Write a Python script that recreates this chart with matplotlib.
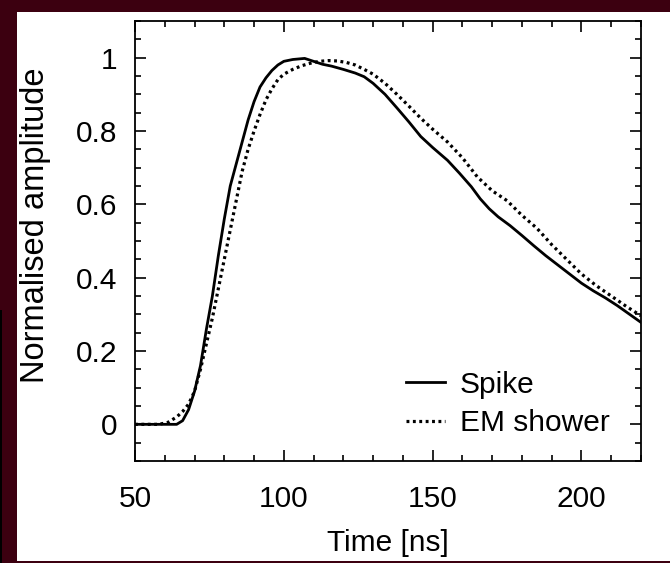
import matplotlib
matplotlib.use("Agg")
import matplotlib.pyplot as plt
from matplotlib.patches import Rectangle
from matplotlib.ticker import MultipleLocator

plt.rcParams['font.family'] = ['Liberation Sans', 'DejaVu Sans']

spike_t = [50, 64, 66, 68, 70, 72, 74, 76, 78, 80, 82, 84, 86, 88, 90, 92, 94, 96, 98,
           100, 103, 107, 110, 113, 116, 120, 124, 127, 130, 134, 138, 142, 146, 150,
           155, 159, 163, 166, 169, 172, 176, 180, 184, 188, 192, 196, 200, 204, 208,
           212, 216, 220]
spike_a = [0, 0, 0.01, 0.04, 0.09, 0.16, 0.26, 0.35, 0.46, 0.56, 0.65, 0.71, 0.77, 0.83,
           0.88, 0.92, 0.945, 0.965, 0.98, 0.99, 0.995, 0.998, 0.99, 0.982, 0.977, 0.968,
           0.958, 0.948, 0.93, 0.90, 0.863, 0.825, 0.785, 0.755, 0.72, 0.685, 0.648,
           0.615, 0.588, 0.566, 0.542, 0.515, 0.487, 0.46, 0.435, 0.41, 0.385, 0.364,
           0.345, 0.324, 0.301, 0.278]

em_t = [50, 58, 61, 64, 66, 68, 70, 72, 74, 76, 78, 80, 82, 84, 86, 88, 90, 92, 94, 96,
        98, 100, 103, 106, 109, 112, 115, 118, 121, 124, 127, 130, 134, 138, 142, 146,
        150, 155, 160, 165, 170, 175, 180, 185, 190, 195, 200, 205, 210, 215, 220]
em_a = [0, 0, 0.005, 0.02, 0.035, 0.055, 0.09, 0.15, 0.22, 0.29, 0.37, 0.45, 0.53, 0.61,
        0.69, 0.75, 0.80, 0.845, 0.885, 0.915, 0.94, 0.955, 0.968, 0.978, 0.985, 0.99,
        0.992, 0.991, 0.987, 0.98, 0.968, 0.955, 0.93, 0.90, 0.868, 0.835, 0.805, 0.77,
        0.727, 0.675, 0.637, 0.61, 0.57, 0.535, 0.49, 0.45, 0.41, 0.378, 0.35, 0.322,
        0.296]

x_ticks = [50, 100, 150, 200]
y_ticks = [0, 0.2, 0.4, 0.6, 0.8, 1]
y_ticklabels = ['0', '0.2', '0.4', '0.6', '0.8', '1']

FS = 21.5

fig = plt.figure(figsize=(6.7, 5.63), dpi=100)
fig.patch.set_facecolor('white')
maroon = '#3c0010'
W, H = 670, 563
for (x0, y0, w, h) in [(0, H - 12, W, 12), (0, 0, 17, H), (0, 0, W, 2)]:
    fig.patches.append(Rectangle((x0 / W, y0 / H), w / W, h / H, transform=fig.transFigure,
                                 facecolor=maroon, edgecolor='none', zorder=0))
fig.patches.append(Rectangle((0, 0), 2 / W, 253 / H, transform=fig.transFigure,
                             facecolor='black', edgecolor='none', zorder=1))

ax = fig.add_axes([135 / W, 1 - 461 / H, (641 - 135) / W, (461 - 21) / H])
ax.plot(spike_t, spike_a, color='black', lw=2.0, label='Spike')
ax.plot(em_t, em_a, color='black', lw=2.3, ls=(0, (0.9, 1.1)), label='EM shower')

ax.set_xlim(50, 220)
ax.set_ylim(-0.1, 1.1)
ax.set_xticks(x_ticks)
ax.set_yticks(y_ticks)
ax.set_yticklabels(y_ticklabels)
ax.xaxis.set_minor_locator(MultipleLocator(10))
ax.yaxis.set_minor_locator(MultipleLocator(0.05))
ax.tick_params(which='both', direction='in', top=True, right=True, width=1.2, labelsize=FS)
ax.tick_params(which='minor', length=4)
ax.tick_params(axis='x', which='major', length=8, pad=17)
ax.tick_params(axis='y', which='major', length=8, pad=13)
for s in ax.spines.values():
    s.set_linewidth(1.3)

ax.set_xlabel('Time [ns]', fontsize=FS, labelpad=12)
ax.set_ylabel('Normalised amplitude', fontsize=23.5)
ax.yaxis.set_label_coords(-0.166, 0.535)

leg = ax.legend(loc='lower right', frameon=False, fontsize=FS, handlelength=1.3,
                handletextpad=0.5, labelspacing=0.35, borderaxespad=0.4,
                bbox_to_anchor=(0.985, 0.0))

fig.savefig('out.png', dpi=100, facecolor=fig.get_facecolor())
